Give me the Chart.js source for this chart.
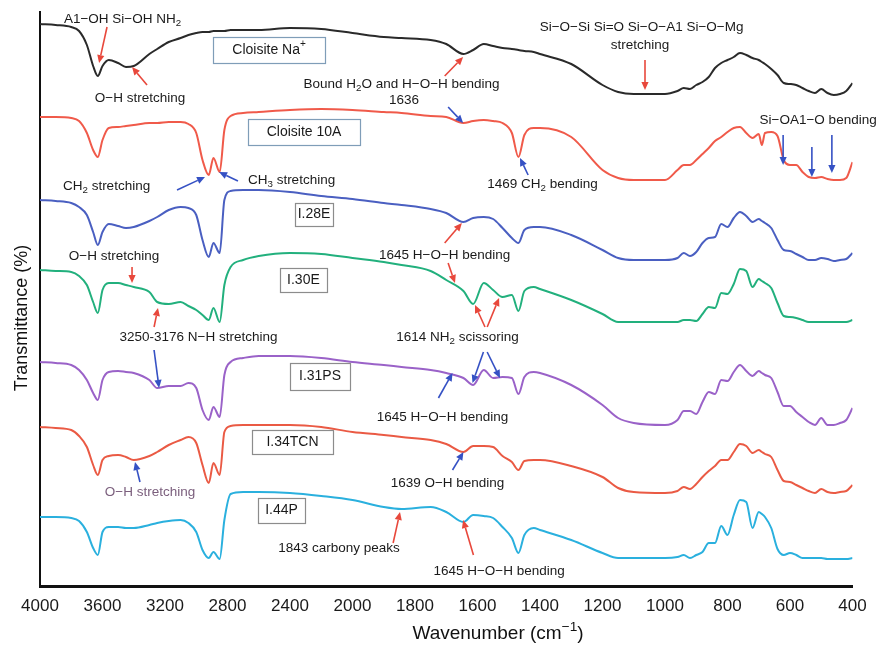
<!DOCTYPE html>
<html>
<head>
<meta charset="utf-8">
<script src="https://cdn.jsdelivr.net/npm/chart.js@4.4.1/dist/chart.umd.min.js"></script>
<style>
    html, body { margin: 0; padding: 0; background: #fff; }
    canvas { display: block; }
</style>
</head>
<body>
<canvas id="ftirChart" width="881" height="645"></canvas>
<script>
// wavenumbers (cm-1) sampled along the spectra
const wavenumbers = [
    4000, 3900, 3800, 3750, 3700, 3660, 3630, 3600, 3560, 3500,
    3450, 3400, 3300, 3250, 3176, 3100, 3050, 3000, 2960, 2920,
    2890, 2850, 2820, 2780, 2700, 2600, 2400, 2200, 2000, 1900,
    1843, 1750, 1700, 1645, 1614, 1580, 1550, 1520, 1490, 1469,
    1450, 1420, 1400, 1300, 1200, 1150, 1100,
    1000, 960, 940, 920, 900, 880, 860, 840, 820, 800,
    780, 760, 740, 720, 700, 690, 680, 660, 640, 620,
    600, 580, 560, 540, 520, 500, 480, 460, 440, 420, 400
];

// transmittance, arbitrary stacked units
const cloisiteNa = [
    562, 561, 559, 555, 541, 520, 510, 520, 526, 523,
    519, 520, 532, 537, 544, 548, 551, 553, 554, 554,
    555, 555, 555, 556, 556, 556, 558, 557, 553, 549,
    548, 546, 542, 532, 536, 542, 540, 538, 537, 536,
    535, 534, 532, 522, 501, 494, 492,
    492, 495, 498, 497, 501, 504, 509, 518, 523, 526,
    529, 533, 531, 528, 526, 524, 522, 517, 511, 503,
    502, 501, 498, 495, 493, 497, 493, 491, 492, 495, 503
];
const cloisite10A = [
    469, 469, 468, 465, 453, 436, 429, 446, 458, 459,
    460, 461, 463, 463, 464, 464, 462, 453, 426, 411,
    428, 414, 456, 470, 473, 474, 476, 477, 476, 474,
    473, 470, 469, 463, 465, 466, 465, 463, 453, 429,
    451, 458, 458, 449, 416, 408, 406,
    406, 416, 421, 421, 426, 432, 438, 445, 449, 454,
    458, 459, 453, 448, 452, 441, 453, 454, 450, 426,
    421, 421, 414, 409, 408, 409, 407, 406, 406, 408, 424
];
const i28E = [
    386, 385, 383, 379, 371, 354, 341, 354, 362, 360,
    358, 359, 365, 369, 376, 379, 378, 371, 346, 329,
    343, 333, 386, 395, 396, 396, 394, 390, 387, 383,
    381, 377, 373, 364, 368, 369, 367, 358, 348, 343,
    356, 359, 359, 351, 336, 328, 326,
    326, 328, 333, 330, 334, 343, 348, 349, 362, 359,
    368, 374, 370, 364, 367, 365, 363, 358, 346, 336,
    335, 332, 329, 326, 326, 328, 327, 325, 326, 327, 333
];
const i30E = [
    316, 315, 314, 310, 301, 284, 273, 296, 303, 303,
    301, 299, 294, 284, 282, 284, 280, 276, 271, 266,
    278, 264, 301, 319, 326, 330, 333, 332, 328, 324,
    321, 315, 306, 295, 282, 303, 296, 289, 291, 275,
    295, 299, 297, 286, 272, 264, 264,
    264, 264, 266, 266, 265, 272, 279, 278, 293, 292,
    302, 317, 315, 299, 307, 305, 303, 298, 283, 270,
    269, 268, 266, 264, 264, 264, 264, 264, 264, 264, 266
];
const i31PS = [
    224, 223, 221, 216, 206, 193, 186, 206, 214, 215,
    214, 213, 206, 198, 200, 200, 203, 198, 176, 166,
    179, 169, 211, 224, 228, 230, 230, 228, 224, 221,
    219, 216, 213, 208, 201, 216, 208, 209, 208, 192,
    209, 214, 213, 201, 181, 168, 163,
    161, 166, 175, 175, 172, 184, 194, 192, 206, 205,
    214, 221, 215, 210, 215, 213, 211, 208, 194, 180,
    180, 174, 169, 164, 161, 168, 161, 161, 163, 166, 178
];
const i34TCN = [
    159, 158, 156, 150, 139, 121, 111, 126, 130, 131,
    129, 126, 130, 134, 141, 146, 149, 143, 121, 103,
    123, 111, 154, 160, 161, 161, 161, 159, 154, 151,
    149, 146, 142, 134, 140, 140, 139, 130, 124, 116,
    125, 126, 126, 120, 109, 98, 94,
    93, 95, 99, 97, 102, 109, 115, 120, 126, 126,
    134, 142, 140, 133, 136, 134, 132, 129, 116, 105,
    104, 101, 98, 95, 93, 97, 94, 93, 94, 95, 101
];
const i44P = [
    69, 69, 68, 65, 54, 38, 31, 54, 59, 59,
    58, 58, 61, 63, 65, 66, 63, 54, 36, 28,
    34, 27, 66, 92, 94, 94, 93, 90, 86, 79,
    77, 79, 74, 64, 71, 70, 68, 59, 48, 33,
    51, 58, 56, 46, 33, 28, 28,
    28, 29, 31, 28, 31, 34, 43, 43, 60, 51,
    71, 86, 84, 58, 74, 72, 69, 58, 37, 31,
    33, 31, 28, 28, 28, 28, 27, 27, 27, 27, 28
];

// axis is split: 400 cm-1 per step above 2000, 200 cm-1 per step below
const tickLabels = ['4000', '3600', '3200', '2800', '2400', '2000', '1800', '1600', '1400', '1200', '1000', '800', '600', '400'];
const toAxis = (w) => (w >= 2000 ? (4000 - w) / 400 : 5 + (2000 - w) / 200);

const FONT = '"Liberation Sans", Arial, Helvetica, sans-serif';

// [text, wavenumber, y, colour]
const labels = [
    ['A1\u2212OH Si\u2212OH NH_{2}', 3472, 567],
    ['O\u2212H stretching', 3360, 488],
    ['Bound H_{2}O and H\u2212O\u2212H bending', 1843, 502],
    ['1636', 1835, 486],
    ['Si\u2212O\u2212Si Si=O Si\u2212O\u2212A1 Si\u2212O\u2212Mg', 1075, 558.5],
    ['stretching', 1080, 541],
    ['1469 CH_{2} bending', 1392, 402],
    ['Si\u2212OA1\u2212O bending', 510, 466],
    ['CH_{2} stretching', 3574, 400],
    ['CH_{3} stretching', 2390, 406],
    ['1645 H\u2212O\u2212H bending', 1705, 331],
    ['O\u2212H stretching', 3526, 330],
    ['3250-3176 N\u2212H stretching', 2986, 249],
    ['1614 NH_{2} scissoring', 1664, 249],
    ['1645 H\u2212O\u2212H bending', 1712, 169],
    ['O\u2212H stretching', 3296, 94, '#7b5f7d'],
    ['1639 O\u2212H bending', 1696, 103],
    ['1843 carbony peaks', 2086, 38],
    ['1645 H\u2212O\u2212H bending', 1531, 15]
];

// [colour, from wavenumber, from y, to wavenumber, to y]
const arrows = [
    ['r', 3571, 559, 3622, 523],
    ['r', 3315, 501, 3411, 519],
    ['r', 1705, 510, 1646, 529],
    ['b', 1694, 479, 1646, 463],
    ['r', 1064, 526, 1064, 496],
    ['b', 1438, 411, 1464, 428],
    ['b', 622, 451, 622, 421],
    ['b', 530, 439, 530, 409],
    ['b', 466, 451, 466, 413],
    ['b', 3123, 396, 2944, 409],
    ['b', 2733, 405, 2854, 414],
    ['r', 1705, 343, 1650, 363],
    ['r', 1694, 323, 1672, 303],
    ['r', 3411, 319, 3411, 303],
    ['r', 3270, 259, 3245, 278],
    ['b', 3270, 236, 3238, 198],
    ['r', 1576, 259, 1608, 281],
    ['r', 1569, 259, 1531, 288],
    ['b', 1581, 234, 1616, 203],
    ['b', 1569, 234, 1528, 208],
    ['b', 1725, 188, 1680, 213],
    ['b', 3360, 104, 3392, 124],
    ['b', 1680, 116, 1645, 134],
    ['r', 1870, 43, 1848, 74],
    ['r', 1613, 31, 1646, 66]
];

// [text, wavenumber, y, width px, height px, border]
const boxes = [
    ['Cloisite Na^{+}', 2534, 536, 112, 26, '#7f9db8'],
    ['Cloisite 10A', 2310, 454, 112, 26, '#7f9db8'],
    ['I.28E', 2246, 372, 38, 23, '#8c8c8c'],
    ['I.30E', 2314, 306, 47, 24, '#8c8c8c'],
    ['I.31PS', 2208, 209.5, 60, 27, '#8c8c8c'],
    ['I.34TCN', 2384, 144, 81, 24, '#8c8c8c'],
    ['I.44P', 2454, 75.5, 47, 25, '#8c8c8c']
];

const arrowColors = { r: '#e8483c', b: '#3551c4' };

function parseRich(s) {
    const out = [];
    const re = /([_^])\{([^}]*)\}/g;
    let last = 0, m;
    while ((m = re.exec(s))) {
        if (m.index > last) out.push({ t: s.slice(last, m.index), k: '' });
        out.push({ t: m[2], k: m[1] });
        last = re.lastIndex;
    }
    if (last < s.length) out.push({ t: s.slice(last), k: '' });
    return out;
}

function drawRich(ctx, s, cx, cy, size, color) {
    const parts = parseRich(s);
    const small = size * 0.72;
    let total = 0;
    parts.forEach((p) => {
        ctx.font = `${p.k ? small : size}px ${FONT}`;
        p.w = ctx.measureText(p.t).width;
        total += p.w;
    });
    let x = cx - total / 2;
    ctx.fillStyle = color;
    ctx.textAlign = 'left';
    ctx.textBaseline = 'middle';
    parts.forEach((p) => {
        ctx.font = `${p.k ? small : size}px ${FONT}`;
        let y = cy;
        if (p.k === '_') y = cy + size * 0.32;
        if (p.k === '^') y = cy - size * 0.38;
        ctx.fillText(p.t, x, y);
        x += p.w;
    });
}

function drawArrow(ctx, x1, y1, x2, y2, color) {
    const ang = Math.atan2(y2 - y1, x2 - x1);
    const head = 8, half = 3.6;
    const bx = x2 - head * Math.cos(ang), by = y2 - head * Math.sin(ang);
    ctx.strokeStyle = color;
    ctx.fillStyle = color;
    ctx.lineWidth = 1.6;
    ctx.beginPath();
    ctx.moveTo(x1, y1);
    ctx.lineTo(bx, by);
    ctx.stroke();
    ctx.beginPath();
    ctx.moveTo(x2, y2);
    ctx.lineTo(bx + half * Math.sin(ang), by - half * Math.cos(ang));
    ctx.lineTo(bx - half * Math.sin(ang), by + half * Math.cos(ang));
    ctx.closePath();
    ctx.fill();
}

const annotations = {
    id: 'annotations',
    afterDatasetsDraw(chart) {
        const { ctx, scales: { x, y } } = chart;
        const px = (w) => x.getPixelForValue(toAxis(w));
        const py = (v) => y.getPixelForValue(v);
        ctx.save();

        boxes.forEach(([t, w, v, bw, bh, border]) => {
            const cx = px(w), cy = py(v);
            ctx.fillStyle = '#fff';
            ctx.fillRect(cx - bw / 2, cy - bh / 2, bw, bh);
            ctx.strokeStyle = border;
            ctx.lineWidth = 1.2;
            ctx.strokeRect(Math.round(cx - bw / 2) + 0.5, Math.round(cy - bh / 2) + 0.5, bw, bh);
            drawRich(ctx, t, cx, cy, 14, '#1a1a1a');
        });

        arrows.forEach(([c, w1, v1, w2, v2]) => {
            drawArrow(ctx, px(w1), py(v1), px(w2), py(v2), arrowColors[c]);
        });

        labels.forEach(([t, w, v, color]) => {
            drawRich(ctx, t, px(w), py(v), 13.5, color || '#1a1a1a');
        });

        // axis titles
        ctx.save();
        ctx.translate(22, 318);
        ctx.rotate(-Math.PI / 2);
        drawRich(ctx, 'Transmittance (%)', 0, 0, 18, '#111');
        ctx.restore();
        drawRich(ctx, 'Wavenumber (cm^{\u22121})', 498, 634, 19, '#111');

        ctx.restore();
    }
};

document.addEventListener('DOMContentLoaded', function () {
    const series = [
        { label: 'Cloisite Na+', values: cloisiteNa, color: '#2a2a2a' },
        { label: 'Cloisite 10A', values: cloisite10A, color: '#f05a4a' },
        { label: 'I.28E', values: i28E, color: '#4a5fc1' },
        { label: 'I.30E', values: i30E, color: '#22b07d' },
        { label: 'I.31PS', values: i31PS, color: '#9a62c8' },
        { label: 'I.34TCN', values: i34TCN, color: '#ea5a44' },
        { label: 'I.44P', values: i44P, color: '#2ab0de' }
    ];

    const ctx = document.getElementById('ftirChart').getContext('2d');
    new Chart(ctx, {
        type: 'line',
        data: {
            datasets: series.map((s) => ({
                label: s.label,
                data: wavenumbers.map((w, i) => ({ x: toAxis(w), y: s.values[i] })),
                borderColor: s.color,
                borderWidth: 2,
                pointRadius: 0,
                fill: false,
                cubicInterpolationMode: 'monotone',
            })),
        },
        options: {
            responsive: false,
            animation: false,
            layout: { padding: { top: 12, right: 28.5, left: 0, bottom: 0 } },
            plugins: { legend: { display: false }, tooltip: { enabled: false } },
            scales: {
                x: {
                    type: 'linear',
                    min: 0,
                    max: 13,
                    afterFit: (scale) => { scale.height = 59; },
                    grid: { display: false, drawTicks: false },
                    border: { display: true, color: '#111', width: 3 },
                    ticks: {
                        stepSize: 1,
                        autoSkip: false,
                        maxRotation: 0,
                        padding: 10,
                        color: '#1a1a1a',
                        font: { size: 17, family: FONT },
                        callback: (v) => tickLabels[v],
                    },
                },
                y: {
                    min: 0,
                    max: 574,
                    afterFit: (scale) => { scale.width = 40; },
                    grid: { display: false, drawTicks: false },
                    border: { display: true, color: '#111', width: 2 },
                    ticks: { display: false },
                },
            },
        },
        plugins: [annotations],
    });
});
</script>
</body>
</html>
